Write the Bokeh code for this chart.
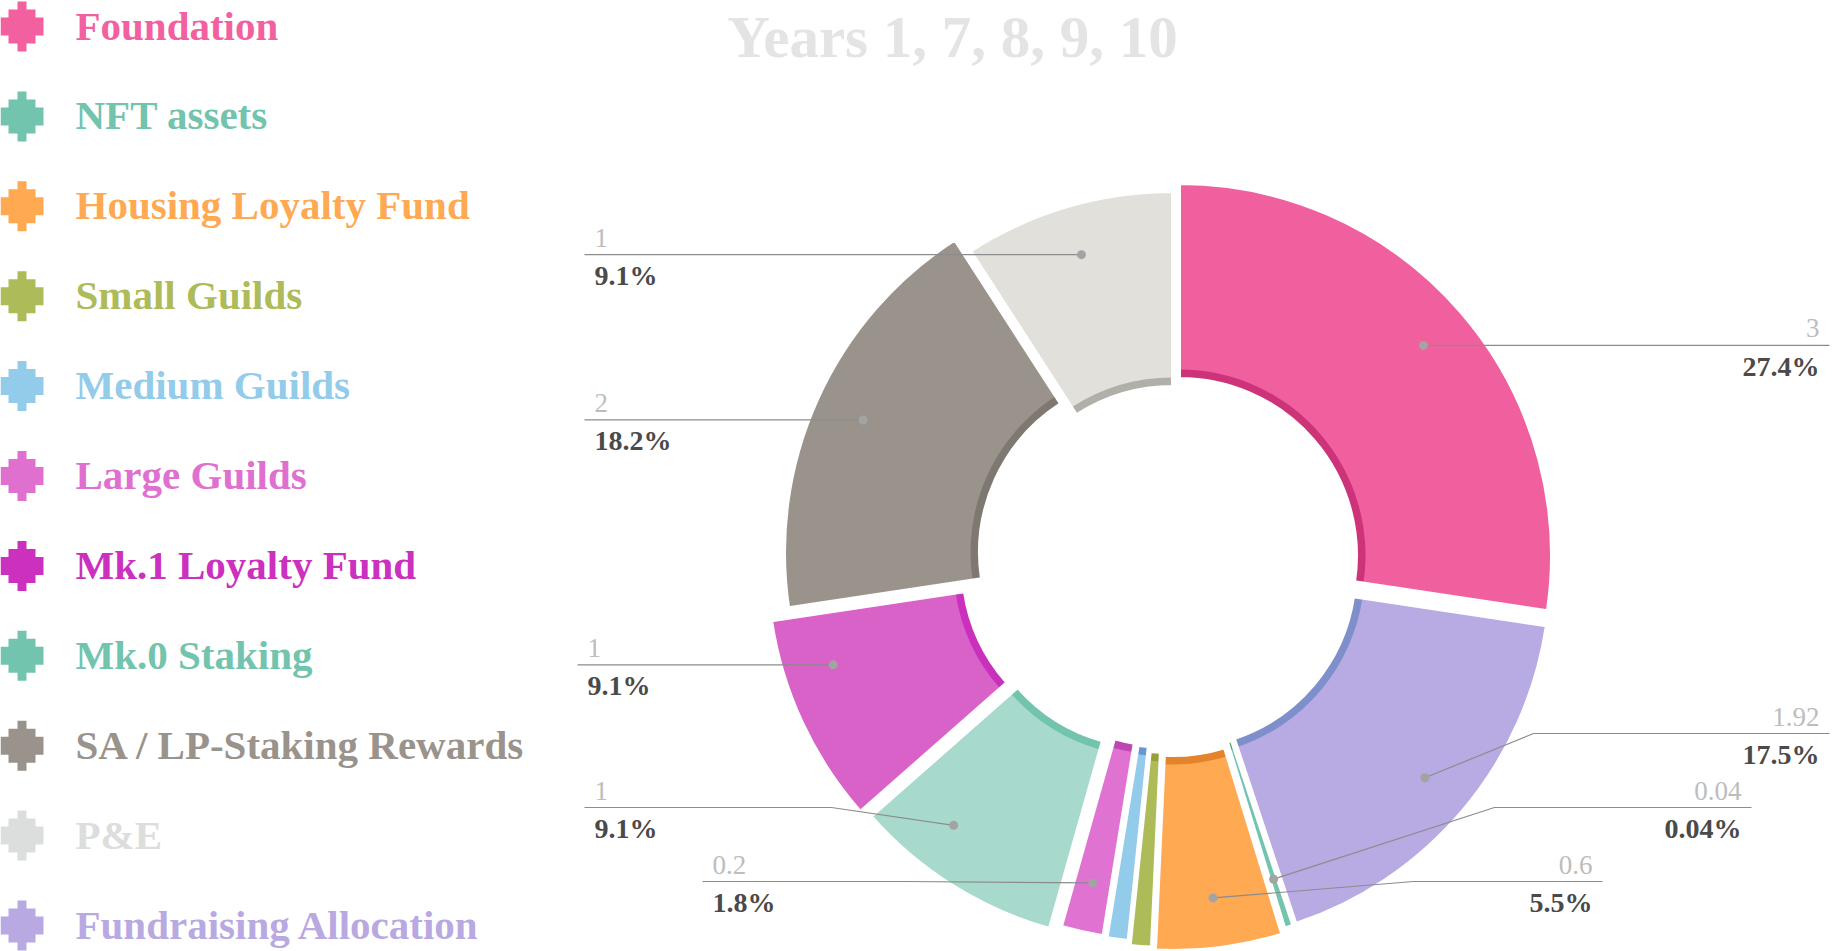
import math
from bokeh.plotting import figure
from bokeh.models import Range1d
from bokeh.embed import file_html
from bokeh.resources import INLINE
from bokeh.core.properties import value

W, H = 1833, 951

# ---------------- data ----------------
title_text = "Years 1, 7, 8, 9, 10"

# slices, clockwise from 12 o'clock
slice_names = ["Foundation", "Fundraising Allocation", "NFT assets", "Housing Loyalty Fund",
               "Small Guilds", "Medium Guilds", "Large Guilds", "Mk.0 Staking",
               "Mk.1 Loyalty Fund", "SA / LP-Staking Rewards", "P&E"]
slice_values = [3, 1.92, 0.04, 0.6, 0.1, 0.1, 0.2, 1, 1, 2, 1]
percent_labels = ["27.4%", "17.5%", "0.04%", "5.5%", "", "", "1.8%", "9.1%", "9.1%", "18.2%", "9.1%"]

legend_names = ["Foundation", "NFT assets", "Housing Loyalty Fund", "Small Guilds",
                "Medium Guilds", "Large Guilds", "Mk.1 Loyalty Fund", "Mk.0 Staking",
                "SA / LP-Staking Rewards", "P&E", "Fundraising Allocation"]

# ---------------- styles ----------------
fill_colors = {
    "Foundation": "#F1609E", "Fundraising Allocation": "#B8AAE2", "NFT assets": "#72C4AE",
    "Housing Loyalty Fund": "#FFA952", "Small Guilds": "#ADBB58", "Medium Guilds": "#93CBEA",
    "Large Guilds": "#E072D2", "Mk.0 Staking": "#A8D9CD", "Mk.1 Loyalty Fund": "#D962C9",
    "SA / LP-Staking Rewards": "#9A938C", "P&E": "#E1E0DB",
}
band_colors = {
    "Foundation": "#CD3379", "Fundraising Allocation": "#7F8FCC", "NFT assets": "#3D9C6E",
    "Housing Loyalty Fund": "#E5832A", "Small Guilds": "#96A03A", "Medium Guilds": "#6A96D0",
    "Large Guilds": "#BD45B4", "Mk.0 Staking": "#72C4AE", "Mk.1 Loyalty Fund": "#C931BC",
    "SA / LP-Staking Rewards": "#7F7871", "P&E": "#B0AFA8",
}
legend_colors = {
    "Foundation": "#F2609F", "NFT assets": "#72C4AE", "Housing Loyalty Fund": "#FFA952",
    "Small Guilds": "#ADBB58", "Medium Guilds": "#93CBEA", "Large Guilds": "#E070D0",
    "Mk.1 Loyalty Fund": "#CC30BF", "Mk.0 Staking": "#72C4AE",
    "SA / LP-Staking Rewards": "#9A938C", "P&E": "#DCDDDD", "Fundraising Allocation": "#B8A9E2",
}
# pulled-out offset of each slice (screen px, dx right, dy down)
slice_offset = {
    "Foundation": (14, -8), "Fundraising Allocation": (13, 7), "NFT assets": (10, 9),
    "Housing Loyalty Fund": (7, 15), "Small Guilds": (3, 12), "Medium Guilds": (1, 7),
    "Large Guilds": (-3, 5), "Mk.0 Staking": (-15, 7), "Mk.1 Loyalty Fund": (-26, 2),
    "SA / LP-Staking Rewards": (-9, -11), "P&E": (7, 0),
}
# label layout: text anchor x, elbow x (None = straight), angular nudge of the dot (deg)
label_layout = {
    "Foundation": (1819, None, 0), "Fundraising Allocation": (1819, 1533, 0),
    "NFT assets": (1741, 1494, 0), "Housing Loyalty Fund": (1592, 1413, 0),
    "Large Guilds": (712, 905, 0), "Mk.0 Staking": (594, 831, 5.5),
    "Mk.1 Loyalty Fund": (587, None, 7), "SA / LP-Staking Rewards": (594, None, 0),
    "P&E": (594, 849, 0),
}

CX, CY = 1165, 563
R_OUT, R_IN, BAND = 372, 177, 9
DOT_R = 322
LABEL_BOTTOM, LABEL_GAP = 881, 74
FONT = value("Liberation Serif")


def Y(sy):
    return H - sy


p = figure(width=W, height=H, x_range=Range1d(0, W), y_range=Range1d(0, H),
           output_backend="svg", toolbar_location=None, min_border=0,
           x_axis_type=None, y_axis_type=None)
p.outline_line_color = None
p.background_fill_color = "white"
p.border_fill_color = "white"

total = sum(slice_values)
cum = 0.0
wx, wy, sa, ea, fc, bc = [], [], [], [], [], []
dots = []
for name, v, pl in zip(slice_names, slice_values, percent_labels):
    t0 = cum / total * 2 * math.pi
    t1 = (cum + v) / total * 2 * math.pi
    cum += v
    dx, dy = slice_offset[name]
    cx, cy = CX + dx, CY + dy
    wx.append(cx)
    wy.append(Y(cy))
    sa.append(math.pi / 2 - t1)
    ea.append(math.pi / 2 - t0)
    fc.append(fill_colors[name])
    bc.append(band_colors[name])
    if pl:
        anchor, elbow, nudge = label_layout[name]
        tm = (t0 + t1) / 2 + math.radians(nudge)
        px = cx + DOT_R * math.sin(tm)
        py = cy - DOT_R * math.cos(tm)
        side = "right" if tm < math.pi else "left"
        dots.append(dict(name=name, v=v, pl=pl, px=px, py=py, side=side,
                         anchor=anchor, elbow=elbow))

# slices
p.annular_wedge(x=wx, y=wy, inner_radius=R_IN, outer_radius=R_OUT, start_angle=sa,
                end_angle=ea, fill_color=fc, line_color=None)
p.annular_wedge(x=wx, y=wy, inner_radius=R_IN, outer_radius=R_IN + BAND, start_angle=sa,
                end_angle=ea, fill_color=bc, line_color=None)
p.annular_wedge(x=wx, y=wy, inner_radius=R_IN, outer_radius=R_OUT, start_angle=sa,
                end_angle=ea, fill_color=None, line_color="white", line_width=3)

# label y layout per side: keep order, push up from the bottom
for side in ("left", "right"):
    items = sorted([d for d in dots if d["side"] == side], key=lambda d: -d["py"])
    limit = LABEL_BOTTOM
    for d in items:
        d["ly"] = min(d["py"], limit)
        limit = d["ly"] - LABEL_GAP

lxs, lys = [], []
for d in dots:
    if d["side"] == "left":
        end = d["anchor"] - 10
    else:
        end = d["anchor"] + 10
    elbow = d["elbow"] if d["elbow"] is not None else d["px"]
    lxs.append([end, elbow, d["px"]])
    lys.append([Y(d["ly"]), Y(d["ly"]), Y(d["py"])])
p.multi_line(xs=lxs, ys=lys, line_color="#8C8C8C", line_width=1.2)
p.scatter(x=[d["px"] for d in dots], y=[Y(d["py"]) for d in dots], size=9,
          fill_color="#A3A3A3", line_color=None)

for side, align in (("left", "left"), ("right", "right")):
    ds = [d for d in dots if d["side"] == side]
    p.text(x=[d["anchor"] for d in ds], y=[Y(d["ly"] - 17) for d in ds],
           text=[f"{d['v']:g}" for d in ds], text_font=FONT, text_font_size="27px",
           text_color="#BDBDBD", text_align=align, text_baseline="middle")
    p.text(x=[d["anchor"] for d in ds], y=[Y(d["ly"] + 21) for d in ds],
           text=[d["pl"] for d in ds], text_font=FONT, text_font_size="28px",
           text_font_style="bold", text_color="#4A4A4A", text_align=align,
           text_baseline="middle")

# title
p.text(x=[952], y=[Y(36)], text=[title_text], text_font=FONT, text_font_size="59px",
       text_font_style="bold", text_color="#E4E4E4", text_align="center",
       text_baseline="middle")

# legend with stepped-cross markers
shape_x = [-4.5, 4.5, 4.5, 13.5, 13.5, 21.5, 21.5, 13.5, 13.5, 4.5, 4.5, -4.5, -4.5, -13.5,
           -13.5, -21.5, -21.5, -13.5, -13.5, -4.5]
shape_y = [-25, -25, -17, -17, -9, -9, 9, 9, 17, 17, 25, 25, 17, 17, 9, 9, -9, -9, -17, -17]
LEG_X, LEG_TOP, LEG_STEP = 21.5, 26, 89.9
mxs, mys, mcs, tys = [], [], [], []
for i, name in enumerate(legend_names):
    cy = LEG_TOP + i * LEG_STEP
    mxs.append([LEG_X + sx for sx in shape_x])
    mys.append([Y(cy + sy) for sy in shape_y])
    mcs.append(legend_colors[name])
    tys.append(Y(cy - 1))
p.patches(xs=mxs, ys=mys, fill_color=mcs, line_color=None)
p.text(x=[75] * len(legend_names), y=tys, text=legend_names, text_font=FONT,
       text_font_size="41px", text_font_style="bold", text_color=mcs,
       text_align="left", text_baseline="middle")

open("out.html", "w").write(file_html(p, INLINE))
